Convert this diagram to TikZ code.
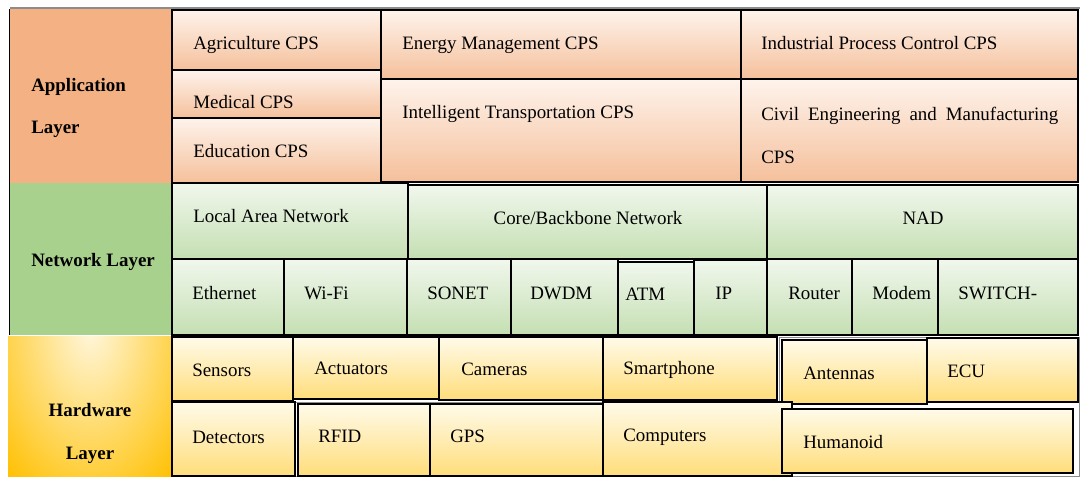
\documentclass[tikz,border=0pt]{standalone}
\usepackage{fontspec}
\setmainfont{Liberation Serif}
\usepackage{tikz}
\usepackage{xcolor}

\definecolor{appSalmon}{RGB}{244,177,131}
\definecolor{appTop}{RGB}{254,243,236}
\definecolor{appBot}{RGB}{245,192,155}
\definecolor{netGreen}{RGB}{169,209,142}
\definecolor{netTop}{RGB}{241,247,237}
\definecolor{netBot}{RGB}{196,223,178}
\definecolor{hwGold}{RGB}{255,192,0}
\definecolor{hwGlow}{RGB}{255,247,222}
\definecolor{hwTop}{RGB}{255,251,234}
\definecolor{hwBot}{RGB}{255,221,122}
\definecolor{frameGray}{RGB}{140,140,140}

\newcommand{\cpsfont}{\fontsize{14.2}{17}\selectfont}

\tikzset{
  appbox/.style={draw=black, line width=1.2pt, top color=appTop, bottom color=appBot},
  netbox/.style={draw=black, line width=1.2pt, top color=netTop, bottom color=netBot},
  hwbox/.style={draw=black, line width=1.2pt, top color=hwTop, bottom color=hwBot},
  outerframe/.style={draw=frameGray, line width=0.6pt},
  lbl/.style={anchor=base west, inner sep=0pt, font=\cpsfont},
  clbl/.style={anchor=base, inner sep=0pt, font=\cpsfont},
  layerlbl/.style={anchor=base west, inner sep=0pt, font=\cpsfont\bfseries}
}

\begin{document}
\begin{tikzpicture}[x=0.75pt,y=0.75pt,yscale=-1,xscale=1]
\useasboundingbox (0,0) rectangle (1084,476);

%Shape: Layer cells
\fill [appSalmon] (9,9) rectangle (172,183) ;
\fill [netGreen] (9,183) rectangle (172,335) ;
\fill [hwGold] (8,336) rectangle (172,476) ;
\begin{scope}
\clip (8,336) rectangle (172,476) ;
\shade [inner color=hwGlow, outer color=hwGold] (90,328) ellipse (125 and 200) ;
\end{scope}
%Straight Lines
\draw [color=frameGray, line width=0.8pt] (10,8) -- (1080,8) ;
\draw [line width=1.2pt] (9.5,9) -- (9.5,335) ;

%Shape: Rectangle (application)
\draw [appbox] (172,10) rectangle (381,70) ;
\draw [appbox] (172,70) rectangle (381,118) ;
\draw [appbox] (172,118) rectangle (381,183) ;
\draw [appbox] (381,10) rectangle (741,79) ;
\draw [appbox] (381,79) rectangle (741,182) ;
\draw [appbox] (741,10) rectangle (1078,79) ;
\draw [appbox] (741,79) rectangle (1078,182) ;

%Shape: Rectangle (network)
\draw [netbox] (172,183) rectangle (408,259) ;
\draw [netbox] (408,185) rectangle (767,259) ;
\draw [netbox] (767,185) rectangle (1078,259) ;
\draw [netbox] (172,259) rectangle (284,335) ;
\draw [netbox] (284,259) rectangle (407,335) ;
\draw [netbox] (407,259) rectangle (511,335) ;
\draw [netbox] (511,259) rectangle (618,335) ;
\draw [netbox] (618,262) rectangle (694,335) ;
\draw [netbox] (694,260) rectangle (767,335) ;
\draw [netbox] (767,259) rectangle (852,335) ;
\draw [netbox] (852,259) rectangle (938,335) ;
\draw [netbox] (938,259) rectangle (1078,335) ;

%Shape: Rectangle (hardware)
\draw [outerframe] (295,402) rectangle (603,476) ;
\draw [outerframe] (779,337) rectangle (1079,476) ;
\draw [hwbox] (172,337) rectangle (293,401) ;
\draw [hwbox] (293,337) rectangle (439,399) ;
\draw [hwbox] (439,337) rectangle (603,400) ;
\draw [hwbox] (603,337) rectangle (777,400) ;
\draw [hwbox] (927,338) rectangle (1078,402) ;
\draw [hwbox] (782,340) rectangle (927,404) ;
\draw [hwbox] (172,402) rectangle (295,476) ;
\draw [hwbox] (298,404) rectangle (430,476) ;
\draw [hwbox] (430,404) rectangle (603,476) ;
\draw [hwbox] (603,402) rectangle (792,476) ;
\draw [hwbox] (782,409) rectangle (1073,473) ;

% Text Node
\draw (31,91) node (appA) [layerlbl] {Application};
% Text Node
\draw (31,133) node (appB) [layerlbl] {Layer};
% Text Node
\draw (31,266) node (netL) [layerlbl] {Network Layer};
% Text Node
\draw (90,416) node (hwA) [layerlbl, anchor=base] {Hardware};
% Text Node
\draw (90,459) node (hwB) [layerlbl, anchor=base] {Layer};

% Text Node
\draw (193,49.5) node (agri) [lbl] {Agriculture CPS};
% Text Node
\draw (193,108.5) node (medi) [lbl] {Medical CPS};
% Text Node
\draw (193,157.5) node (edu) [lbl] {Education CPS};
% Text Node
\draw (402,49) node (energy) [lbl] {Energy Management CPS};
% Text Node
\draw (402,118) node (trans) [lbl] {Intelligent Transportation CPS};
% Text Node
\draw (761,49) node (indus) [lbl] {Industrial Process Control CPS};
% Text Node
\draw (761,120) node (civilA) [lbl] {\makebox[222.75pt][s]{Civil Engineering and Manufacturing}};
% Text Node
\draw (761,163) node (civilB) [lbl] {CPS};

% Text Node
\draw (193,222) node (lan) [lbl] {Local Area Network};
% Text Node
\draw (588,224) node (core) [clbl] {Core/Backbone Network};
% Text Node
\draw (923,224) node (nad) [clbl] {NAD};
% Text Node
\draw (192,299) node (eth) [lbl] {Ethernet};
% Text Node
\draw (304,299) node (wifi) [lbl] {Wi-Fi};
% Text Node
\draw (427,299) node (sonet) [lbl] {SONET};
% Text Node
\draw (530,299) node (dwdm) [lbl] {DWDM};
% Text Node
\draw (625,300) node (atm) [lbl] {ATM};
% Text Node
\draw (715,299) node (ip) [lbl] {IP};
% Text Node
\draw (788,299) node (router) [lbl] {Router};
% Text Node
\draw (872,299) node (modem) [lbl] {Modem};
% Text Node
\draw (958,299) node (switch) [lbl] {SWITCH-};

% Text Node
\draw (192,376) node (sensors) [lbl] {Sensors};
% Text Node
\draw (314,374) node (actuators) [lbl] {Actuators};
% Text Node
\draw (461,375) node (cameras) [lbl] {Cameras};
% Text Node
\draw (623,374) node (smart) [lbl] {Smartphone};
% Text Node
\draw (803,379) node (antennas) [lbl] {Antennas};
% Text Node
\draw (947,377) node (ecu) [lbl] {ECU};
% Text Node
\draw (192,443) node (detectors) [lbl] {Detectors};
% Text Node
\draw (318,442) node (rfid) [lbl] {RFID};
% Text Node
\draw (450,442) node (gps) [lbl] {GPS};
% Text Node
\draw (623,441) node (computers) [lbl] {Computers};
% Text Node
\draw (803,448) node (humanoid) [lbl] {Humanoid};

\end{tikzpicture}
\end{document}
